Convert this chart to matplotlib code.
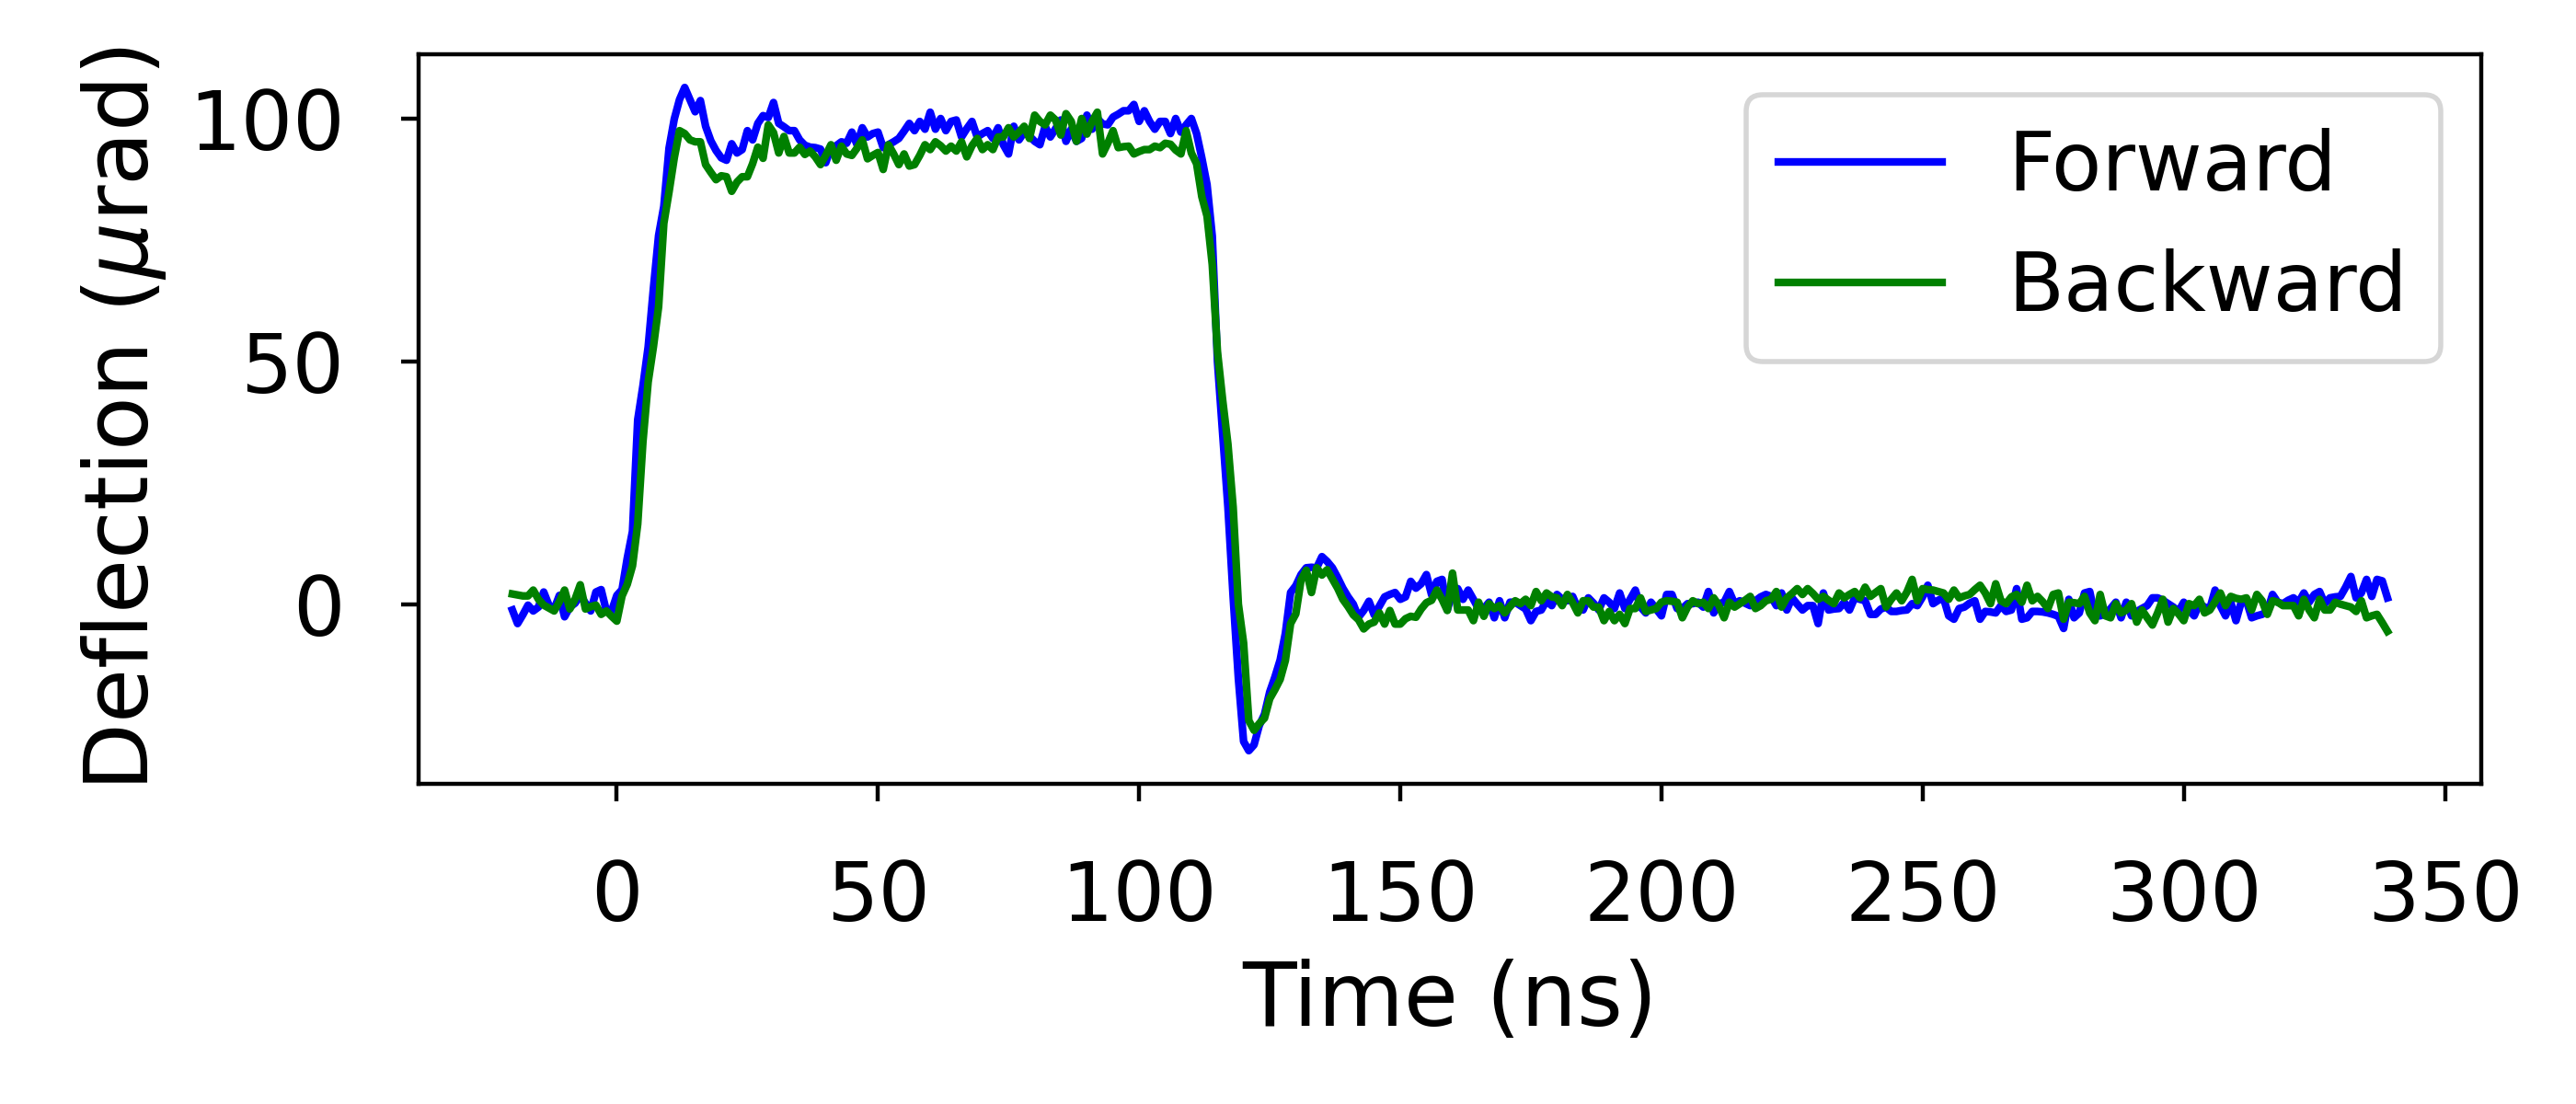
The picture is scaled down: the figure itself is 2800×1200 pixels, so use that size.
#!/usr/bin/env python
"""Forward vs backward beam deflection transient."""

from __future__ import annotations

import matplotlib

matplotlib.use("Agg")
import matplotlib.pyplot as plt
import numpy as np

# sample times, 1 ns spacing
TIME_START_NS = -20
TIME_STOP_NS = 339

FORWARD_URAD = [
    -1.2, -4.0, -2.2, -0.2, -1.4, -0.6, 2.5, -0.2, -1.0, 1.8,
    -2.6, -0.6, 0.2, 1.8, 0.2, -1.4, 2.5, 3.0, -1.4, -1.4,
    1.8, 3.0, 9.5, 15.0, 38.0, 45.0, 53.0, 65.0, 76.0, 82.0,
    94.0, 100.0, 104.0, 106.5, 104.0, 101.5, 103.8, 98.5, 95.5, 93.5,
    92.0, 91.5, 94.9, 93.0, 93.7, 97.6, 95.7, 99.1, 100.7, 100.3,
    103.4, 99.1, 98.4, 97.6, 97.6, 95.7, 94.6, 94.2, 94.1, 93.8,
    91.0, 94.1, 94.5, 95.3, 95.0, 97.3, 94.7, 98.2, 96.3, 97.0,
    97.3, 94.1, 94.7, 95.3, 96.0, 97.5, 99.1, 97.6, 99.5, 97.9,
    101.4, 97.9, 100.1, 97.6, 99.5, 99.8, 96.3, 98.0, 99.5, 96.3,
    97.0, 97.6, 96.0, 98.2, 94.7, 92.8, 98.5, 95.7, 97.3, 96.5,
    95.4, 94.7, 98.5, 96.3, 98.0, 99.8, 95.4, 97.9, 95.4, 96.0,
    100.8, 97.9, 100.1, 99.0, 98.8, 100.4, 101.0, 101.7, 101.7, 103.0,
    99.5, 101.7, 99.5, 97.9, 99.5, 99.5, 97.0, 100.1, 97.3, 98.8,
    100.1, 97.0, 92.0, 86.5, 75.9, 50.0, 35.0, 20.0, 1.5, -15.3,
    -28.3, -30.2, -29.0, -25.0, -22.7, -18.1, -15.0, -11.5, -6.0, 2.4,
    3.8, 6.1, 7.5, 7.6, 7.5, 9.8, 8.8, 7.5, 5.5, 3.3,
    1.5, 0.0, -2.7, -1.3, 0.6, -2.2, -0.4, 1.5, 2.0, 2.4,
    1.0, 1.5, 4.7, 3.3, 4.2, 6.1, 1.9, 4.7, 5.1, -1.2,
    2.5, 3.2, 1.0, 2.9, 1.0, -1.0, -0.9, 0.4, -2.8, 0.7,
    -2.8, 0.4, 0.4, -0.3, -1.0, -3.4, -1.5, -1.2, 0.7, -0.3,
    2.0, 1.0, 0.7, 1.6, -0.9, -1.2, 1.3, 0.2, -1.2, 1.3,
    0.4, -0.9, 2.3, -0.9, 1.0, 2.9, -0.6, -1.8, 0.4, -1.0,
    -2.4, 2.0, 2.0, -0.9, -0.9, 0.1, 0.1, 0.4, -0.6, 2.6,
    -1.8, 0.1, 0.4, 2.6, 0.1, 0.7, 0.2, -0.3, 0.7, 1.5,
    2.0, 1.6, -0.3, 2.3, -1.2, 1.3, 0.0, -1.2, -0.3, -0.3,
    -4.0, 2.3, -1.2, -1.0, -0.9, 0.4, -1.2, 1.3, 1.0, 0.7,
    -2.1, -2.1, -1.0, -0.6, -1.5, -1.5, -1.3, -1.2, 0.1, -0.3,
    1.5, 3.9, 0.1, 0.8, 1.3, -2.4, -3.1, -0.9, -0.6, 0.2,
    0.7, -3.1, -1.5, -1.6, -1.8, -0.3, -1.5, -1.2, 3.2, -3.1,
    -2.8, -1.5, -1.5, -1.6, -1.8, -2.1, -2.5, -5.0, 1.0, -2.8,
    -1.8, 2.3, 2.6, -2.4, -2.4, -2.0, -0.9, 0.4, -2.8, 0.4,
    -2.4, -1.5, -0.9, -0.3, 1.3, 1.3, 0.8, 0.1, -0.6, -1.5,
    0.4, -1.2, -2.4, 0.1, -0.6, -0.9, 2.9, -0.3, -2.4, 0.4,
    -3.4, 0.4, 0.7, -2.8, -2.4, -2.1, -1.5, 2.0, 0.4, 0.1,
    0.8, 1.3, 0.4, 2.3, 0.4, 2.0, 2.6, 0.1, 1.3, 1.5,
    1.6, 3.5, 5.7, 1.3, 2.3, 5.1, 1.6, 5.1, 4.8, 1.3,
]

BACKWARD_URAD = [
    2.1, 1.9, 1.7, 1.7, 2.9, 1.0, -0.2, -0.8, -1.4, 0.5,
    2.9, -1.0, 1.0, 4.0, -1.0, -0.5, -0.2, -2.1, -1.4, -2.5,
    -3.5, 1.7, 4.1, 7.9, 16.5, 33.5, 45.8, 53.0, 61.3, 78.5,
    85.0, 92.0, 97.6, 97.0, 95.7, 95.3, 95.3, 90.6, 89.0, 87.5,
    88.3, 88.1, 85.1, 87.0, 88.1, 88.1, 90.8, 94.2, 91.9, 98.8,
    97.2, 93.0, 96.4, 93.0, 93.0, 94.2, 92.7, 93.4, 92.2, 90.6,
    92.5, 94.7, 91.5, 94.4, 92.8, 92.5, 94.0, 95.7, 91.8, 92.5,
    93.1, 89.6, 94.7, 92.8, 90.6, 92.8, 90.3, 90.6, 92.5, 94.7,
    93.7, 95.3, 94.5, 93.4, 94.4, 93.4, 95.3, 92.2, 94.5, 96.0,
    93.7, 94.7, 93.7, 96.3, 96.3, 98.2, 96.3, 97.3, 98.5, 96.0,
    100.8, 99.5, 98.8, 100.8, 99.8, 96.7, 101.1, 99.5, 95.4, 100.1,
    96.9, 99.5, 101.4, 92.8, 95.0, 97.6, 94.1, 94.3, 94.4, 92.8,
    93.3, 93.7, 93.7, 94.4, 94.1, 95.0, 94.8, 93.6, 92.8, 97.6,
    93.0, 90.8, 84.0, 80.0, 70.0, 52.0, 42.0, 33.0, 20.0, 0.0,
    -8.0, -24.0, -26.0, -24.6, -23.5, -19.5, -17.6, -15.5, -11.6, -4.0,
    -2.0, 5.0, 7.0, 2.4, 7.5, 6.0, 7.1, 5.2, 3.3, 1.0,
    -0.5, -2.2, -3.2, -5.1, -4.1, -3.7, -1.8, -4.1, -1.3, -4.1,
    -4.1, -3.0, -2.5, -2.7, -1.0, 0.3, 0.8, 2.9, 1.0, -1.3,
    6.4, -1.2, -1.2, -1.2, -3.4, 0.4, -2.5, 0.1, -0.9, -0.3,
    -1.8, -0.5, 0.7, 0.1, 1.0, -0.3, 2.6, 0.7, 2.3, 1.5,
    1.3, -0.3, 2.0, 0.3, -1.8, 0.7, 0.7, -0.6, -0.6, -3.4,
    -1.5, -3.4, -2.1, -4.0, -0.9, -0.9, 1.3, -1.5, -1.2, -0.9,
    0.4, 0.7, 0.6, 0.4, -2.8, -0.6, 0.7, 0.1, 0.4, -0.9,
    1.3, -0.3, -2.8, 0.4, -0.6, 0.1, 0.8, 1.6, -0.9, -0.3,
    0.7, 1.0, 2.6, -0.6, 1.3, 2.2, 3.2, 2.0, 3.2, 2.2,
    1.0, 1.6, 0.8, 0.1, 2.3, 1.3, 2.0, 2.6, 1.3, 3.5,
    1.6, 2.4, 3.2, -0.6, 1.0, 2.3, 0.7, 2.5, 5.1, 0.7,
    3.2, 3.0, 2.9, 2.6, 2.3, 1.0, 2.9, 1.3, 1.7, 2.0,
    3.0, 3.9, 2.3, 0.1, 4.2, 0.7, 0.1, 1.5, 2.0, 0.4,
    3.9, 0.7, 1.6, 0.5, -0.9, 2.0, 2.3, -3.1, 0.4, 0.3,
    0.1, 1.6, -1.8, -3.4, 2.0, -2.4, -2.8, 0.1, -1.8, -1.2,
    0.1, -3.7, -1.2, -2.8, -4.3, -1.8, 1.0, -3.7, -0.9, -2.0,
    -3.4, 0.1, -0.3, 1.0, -1.8, -1.2, 0.5, 2.3, -0.3, 1.6,
    1.2, 1.0, 1.3, -1.2, 2.0, 0.7, -2.1, 0.7, 0.4, -0.3,
    -0.3, -0.3, -2.4, 1.0, -1.2, -2.8, 1.0, -1.2, -1.2, 0.4,
    0.0, -0.3, -0.6, -1.5, 0.7, -2.8, -2.4, -2.1, -3.8, -5.6,
]

SERIES = [
    ("Forward", FORWARD_URAD, "blue"),
    ("Backward", BACKWARD_URAD, "green"),
]


def main() -> int:
    time_ns = np.arange(TIME_START_NS, TIME_STOP_NS + 1)

    fig = plt.figure(figsize=(7, 3), dpi=400)
    ax = fig.add_axes([0.1625, 0.29, 0.8007, 0.6608])

    for label, values, color in SERIES:
        ax.plot(time_ns, np.asarray(values, dtype=float), color=color, linewidth=1.5, label=label)

    ax.set_xticks([0, 50, 100, 150, 200, 250, 300, 350])
    ax.set_yticks([0, 50, 100])
    ax.tick_params(labelsize=16, pad=11)
    ax.set_xlabel("Time (ns)", fontsize=17.3)
    ax.set_ylabel(r"Deflection ($\mu$rad)", fontsize=17.3)
    ax.legend(loc="upper right", fontsize=16)

    fig.savefig("out.png", dpi=400)
    return 0


if __name__ == "__main__":
    raise SystemExit(main())
